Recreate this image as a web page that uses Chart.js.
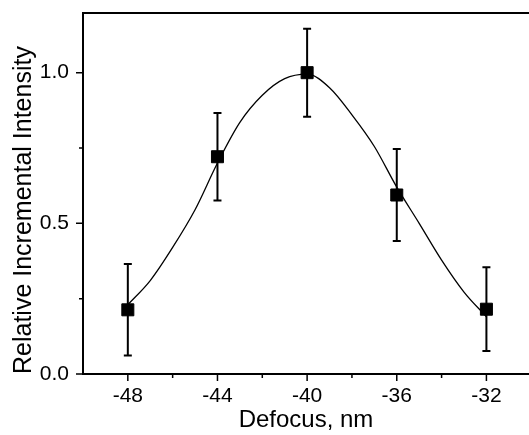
<!DOCTYPE html>
<html>
<head>
<meta charset="utf-8">
<script src="https://cdn.jsdelivr.net/npm/chart.js@4/dist/chart.umd.min.js"></script>
<style>
  html, body { margin: 0; padding: 0; background: #fff; overflow: hidden; }
  canvas { display: block; }
</style>
</head>
<body>
<canvas id="grafico" width="529" height="435"></canvas>
<script>
// datos medidos (cuadrados) y barras de error
const defocus = [-48, -44, -40, -36, -32];
const intensity = [0.213, 0.721, 1.0, 0.594, 0.215];
const errors = [0.152, 0.145, 0.146, 0.153, 0.139];

// curva de ajuste
const fitX = [-48, -47, -46, -45, -44, -43, -42, -41, -40, -39, -38, -37, -36, -35, -34, -33, -32];
const fitY = [0.23, 0.31, 0.42, 0.545, 0.70, 0.835, 0.925, 0.98, 0.995, 0.95, 0.86, 0.755, 0.62, 0.50, 0.378, 0.272, 0.19];

// marcas de los ejes
const xMajor = [-48, -44, -40, -36, -32];
const xMinor = [-46, -42, -38, -34, -30];
const yMajor = [0, 0.5, 1.0];
const yMinor = [0.25, 0.75];

const FONT = "Arial, 'Liberation Sans', sans-serif";

// barras de error, marco y marcas de los ejes
const extras = {
  id: 'extras',
  beforeDatasetsDraw(chart) {
    const ctx = chart.ctx;
    const xs = chart.scales.x, ys = chart.scales.y;
    ctx.save();
    ctx.strokeStyle = '#000';
    ctx.lineWidth = 2;
    defocus.forEach((d, i) => {
      const px = xs.getPixelForValue(d);
      const top = ys.getPixelForValue(intensity[i] + errors[i]);
      const bot = ys.getPixelForValue(intensity[i] - errors[i]);
      ctx.beginPath();
      ctx.moveTo(px, top); ctx.lineTo(px, bot);
      ctx.moveTo(px - 4, top); ctx.lineTo(px + 4, top);
      ctx.moveTo(px - 4, bot); ctx.lineTo(px + 4, bot);
      ctx.stroke();
    });
    ctx.restore();
  },
  afterDraw(chart) {
    const ctx = chart.ctx;
    const a = chart.chartArea;
    const xs = chart.scales.x, ys = chart.scales.y;
    ctx.save();
    ctx.strokeStyle = '#000';
    ctx.lineWidth = 2;
    ctx.beginPath();
    ctx.moveTo(a.right + 2, a.top);
    ctx.lineTo(a.left, a.top);
    ctx.lineTo(a.left, a.bottom);
    ctx.lineTo(a.right + 2, a.bottom);
    ctx.stroke();
    ctx.lineWidth = 1.5;
    ctx.beginPath();
    xMajor.forEach(v => { const p = xs.getPixelForValue(v); ctx.moveTo(p, a.bottom); ctx.lineTo(p, a.bottom + 7); });
    xMinor.forEach(v => { const p = xs.getPixelForValue(v); ctx.moveTo(p, a.bottom); ctx.lineTo(p, a.bottom + 4); });
    yMajor.forEach(v => { const p = ys.getPixelForValue(v); ctx.moveTo(a.left, p); ctx.lineTo(a.left - 7, p); });
    yMinor.forEach(v => { const p = ys.getPixelForValue(v); ctx.moveTo(a.left, p); ctx.lineTo(a.left - 4, p); });
    ctx.stroke();
    ctx.restore();
  }
};

const canvas = document.getElementById('grafico');
new Chart(canvas.getContext('2d'), {
  type: 'scatter',
  data: {
    datasets: [
      {
        label: 'Datos',
        data: defocus.map((d, i) => ({ x: d, y: intensity[i] })),
        pointStyle: 'rect',
        pointRadius: 8.5,
        pointBackgroundColor: '#000',
        pointBorderColor: '#000',
        pointBorderWidth: 1,
        showLine: false
      },
      {
        label: 'Ajuste',
        type: 'line',
        data: fitX.map((d, i) => ({ x: d, y: fitY[i] })),
        borderColor: '#000',
        borderWidth: 1.3,
        pointRadius: 0,
        fill: false,
        cubicInterpolationMode: 'monotone'
      }
    ]
  },
  options: {
    responsive: false,
    animation: false,
    layout: { autoPadding: false, padding: { top: 13, right: 0, left: 0, bottom: 0 } },
    plugins: { legend: { display: false }, tooltip: { enabled: false } },
    scales: {
      x: {
        type: 'linear',
        min: -50,
        max: -30.1,
        afterFit: s => { s.height = 61; s.paddingLeft = 0; s.paddingRight = 0; },
        afterBuildTicks: s => { s.ticks = xMajor.map(v => ({ value: v })); },
        grid: { display: false, drawTicks: false },
        border: { display: false },
        ticks: {
          color: '#000',
          font: { family: FONT, size: 21 },
          padding: 10,
          maxRotation: 0,
          autoSkip: false,
          callback: v => String(v)
        },
        title: {
          display: true,
          text: 'Defocus, nm',
          color: '#000',
          font: { family: FONT, size: 24 },
          padding: { top: 0, bottom: 0 }
        }
      },
      y: {
        min: 0,
        max: 1.198,
        afterFit: s => { s.width = 83; s.paddingTop = 0; s.paddingBottom = 0; },
        afterBuildTicks: s => { s.ticks = yMajor.map(v => ({ value: v })); },
        grid: { display: false, drawTicks: false },
        border: { display: false },
        ticks: {
          color: '#000',
          font: { family: FONT, size: 21 },
          padding: 14,
          callback: v => v.toFixed(1)
        },
        title: {
          display: true,
          text: 'Relative Incremental Intensity',
          align: 'start',
          color: '#000',
          font: { family: FONT, size: 25 },
          padding: { top: 9, bottom: 0 }
        }
      }
    }
  },
  plugins: [extras]
});
</script>
</body>
</html>
